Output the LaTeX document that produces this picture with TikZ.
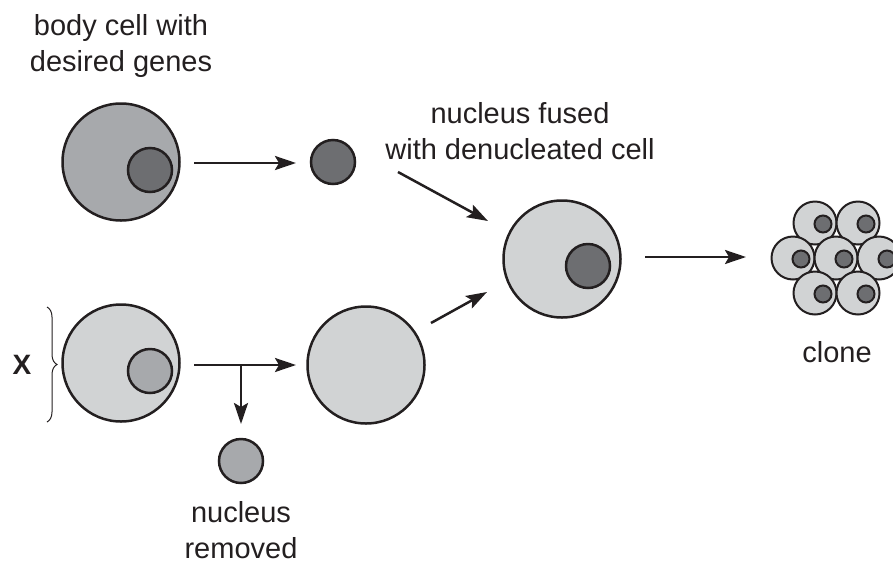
\documentclass[tikz,border=0pt]{standalone}
\usepackage{fontspec}
\setmainfont{Liberation Sans}
\usetikzlibrary{arrows.meta,decorations.pathreplacing}
\definecolor{ink}{HTML}{231F20}
\definecolor{cellmid}{HTML}{A7A9AC}
\definecolor{celllight}{HTML}{D1D3D4}
\definecolor{nucdark}{HTML}{6D6E71}
\tikzset{
  cell/.style={circle,draw=ink,line width=2.5pt,inner sep=0pt,minimum size=#1},
  bigcell/.style={cell=117pt},
  nuc/.style={cell=44pt},
  tinycell/.style={circle,draw=ink,line width=2pt,inner sep=0pt,minimum size=43pt,fill=celllight},
  tinynuc/.style={circle,draw=ink,line width=2pt,inner sep=0pt,minimum size=17pt,fill=nucdark},
  arr/.style={draw=ink,line width=2.5pt,-{Stealth[length=21pt,width=14pt,inset=4pt]}},
  lbl/.style={font=\fontsize{29}{36}\selectfont,text=ink,align=center,inner sep=0pt,anchor=north},
}
\begin{document}
\begin{tikzpicture}[x=1pt,y=-1pt]
\useasboundingbox (0,0) rectangle (893,563);
% labels
\node[lbl] (lbody) at (121,14) {body cell with\\desired genes};
\node[lbl] (lfused) at (520,102) {nucleus fused\\with denucleated cell};
\node[lbl] (lremoved) at (241,501) {nucleus\\removed};
\node[lbl] (lclone) at (837,341) {clone};
\node[font=\fontsize{28}{30}\selectfont\bfseries,text=ink,inner sep=0pt] (lx) at (22,365) {X};
% top row
\node[bigcell,fill=cellmid] (body) at (121,162) {};
\node[nuc,fill=nucdark] (bodynuc) at (150,170) {};
\node[nuc,fill=nucdark] (freenuc) at (333,162) {};
% bottom row
\node[bigcell,fill=celllight] (xcell) at (121,363) {};
\node[nuc,fill=cellmid] (xnuc) at (150,371) {};
\node[nuc,fill=cellmid] (remnuc) at (241,461) {};
\node[bigcell,fill=celllight] (empty) at (366,365) {};
% fused
\node[bigcell,fill=celllight] (fused) at (562,259) {};
\node[nuc,fill=nucdark] (fusednuc) at (588,266) {};
% clone
\foreach \n/\px/\py in {c1/815/223,c2/858/223,c3/793/258,c4/836/258,c5/879/258,c6/815/293,c7/858/293}{
  \node[tinycell] (\n) at (\px,\py) {};
  \node[tinynuc] (\n n) at ([shift={(8,1)}]\n.center) {};
}
% brace
\coordinate (bt) at (47,307);
\coordinate (bb) at (47,422);
\draw[ink,line width=1pt,decorate,decoration={brace,amplitude=10pt}] (bt) -- (bb);
% arrows
\coordinate (a1s) at (194,163); \coordinate (a1e) at (296,163);
\coordinate (a2s) at (194,365); \coordinate (a2e) at (296,365);
\coordinate (a3s) at (241,365); \coordinate (a3e) at (241,424);
\coordinate (a4s) at (398,172); \coordinate (a4e) at (488,221);
\coordinate (a5s) at (431,323); \coordinate (a5e) at (487,292);
\coordinate (a6s) at (645,257); \coordinate (a6e) at (746,257);
\draw[arr] (a1s) -- (a1e);
\draw[arr] (a2s) -- (a2e);
\draw[arr] (a3s) -- (a3e);
\draw[arr] (a4s) -- (a4e);
\draw[arr] (a5s) -- (a5e);
\draw[arr] (a6s) -- (a6e);
\end{tikzpicture}
\end{document}
